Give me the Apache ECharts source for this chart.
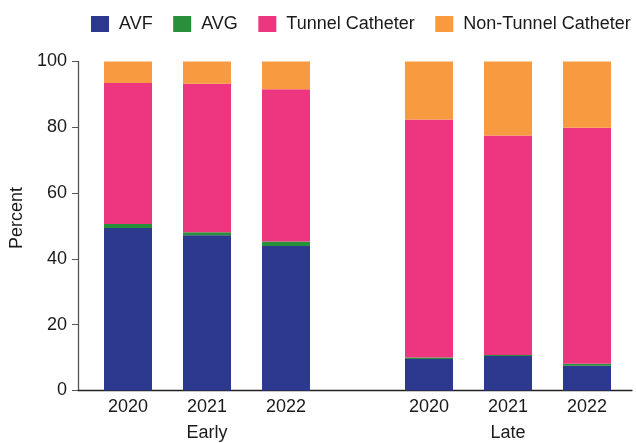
<!DOCTYPE html>
<html>
<head>
<meta charset="utf-8">
<script src="https://cdn.jsdelivr.net/npm/echarts@6/dist/echarts.min.js"></script>
<style>
  html, body { margin: 0; padding: 0; background: #fff; }
  #main { width: 636px; height: 443px; }
</style>
</head>
<body>
<div id="main"></div>
<script>
// years shown under each group
const years = ['2020', '2021', '2022'];
const groups = ['Early', 'Late'];

// percent values, early group then late group
const avfEarly = [49.4, 47.2, 43.9];
const avfLate = [9.6, 10.5, 7.5];
const avgEarly = [1.2, 0.9, 1.4];
const avgLate = [0.4, 0.3, 0.6];
const tunnelEarly = [42.9, 45.1, 46.3];
const tunnelLate = [72.4, 66.7, 71.8];
const nonTunnelEarly = [6.5, 6.8, 8.4];
const nonTunnelLate = [17.6, 22.5, 20.1];

const yTicks = [0, 20, 40, 60, 80, 100];

const names = ['AVF', 'AVG', 'Tunnel Catheter', 'Non-Tunnel Catheter'];
const colors = ['#2d388f', '#288f3a', '#ee3580', '#f89a40'];

const font = 'Liberation Sans, Arial, sans-serif';
const textColor = '#1a1a1a';

const chart = echarts.init(document.getElementById('main'));

const plotTop = 61.5;
const plotBottom = 52.5;

const makeSeries = (name, color, values, idx) => ({
    name: name,
    type: 'bar',
    stack: 'g' + idx,
    xAxisIndex: idx,
    yAxisIndex: idx,
    barWidth: 48,
    itemStyle: { color: color },
    data: values
});

const early = [avfEarly, avgEarly, tunnelEarly, nonTunnelEarly];
const late = [avfLate, avgLate, tunnelLate, nonTunnelLate];

const series = [];
names.forEach((n, i) => {
    series.push(makeSeries(n, colors[i], early[i], 1));
    series.push(makeSeries(n, colors[i], late[i], 2));
});

const groupAxis = (i, name) => ({
    type: 'category',
    gridIndex: i,
    data: years,
    name: name,
    nameLocation: 'middle',
    nameGap: 34,
    nameTextStyle: { fontFamily: font, fontSize: 18, color: textColor },
    axisLine: { show: false },
    axisTick: { show: false },
    axisLabel: { fontFamily: font, fontSize: 18, color: textColor, margin: 8 }
});

const hiddenY = (i) => ({
    type: 'value',
    gridIndex: i,
    min: 0,
    max: 100,
    show: false
});

const gridBox = (extra) => Object.assign({
    top: plotTop,
    bottom: plotBottom,
    containLabel: false,
    outerBoundsMode: 'none'
}, extra);

const option = {
    animation: false,
    legend: {
        left: 91,
        top: 15,
        padding: 0,
        itemWidth: 18,
        itemHeight: 16,
        itemGap: 20.5,
        icon: 'rect',
        data: names,
        textStyle: { fontFamily: font, fontSize: 18, color: textColor, padding: [0, 0, 0, 5] }
    },
    grid: [
        gridBox({ left: 78, right: 4 }),
        gridBox({ left: 88.5, width: 237 }),
        gridBox({ left: 389.5, width: 237 })
    ],
    xAxis: [
        {
            type: 'value',
            gridIndex: 0,
            min: 0,
            max: 1,
            axisLine: { show: true, lineStyle: { color: '#222', width: 1.3 } },
            axisTick: { show: false },
            axisLabel: { show: false },
            splitLine: { show: false }
        },
        groupAxis(1, groups[0]),
        groupAxis(2, groups[1])
    ],
    yAxis: [
        {
            type: 'value',
            gridIndex: 0,
            min: yTicks[0],
            max: yTicks[yTicks.length - 1],
            interval: 20,
            name: 'Percent',
            nameLocation: 'middle',
            nameGap: 48,
            nameTextStyle: { fontFamily: font, fontSize: 18, color: textColor, padding: [0, 0, 0, 16] },
            axisLine: { show: true, lineStyle: { color: '#555', width: 1.3 } },
            axisTick: { show: true, length: 6, lineStyle: { color: '#555' } },
            axisLabel: { fontFamily: font, fontSize: 18, color: textColor, margin: 11 },
            splitLine: { show: false }
        },
        hiddenY(1),
        hiddenY(2)
    ],
    series: series
};

chart.setOption(option);
</script>
</body>
</html>
